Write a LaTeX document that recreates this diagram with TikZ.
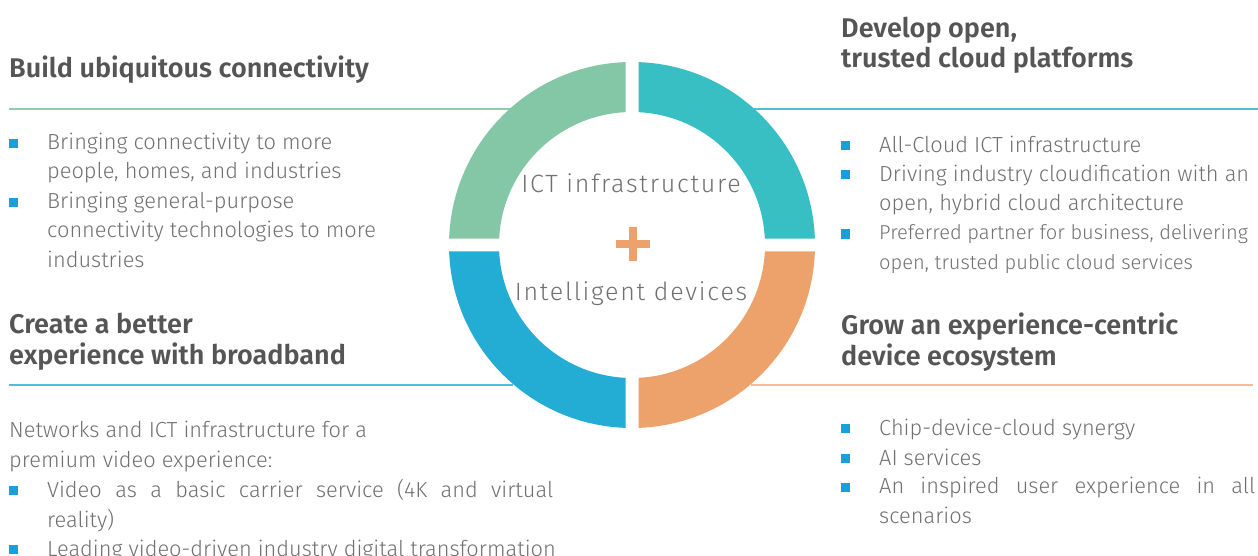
\documentclass[tikz,border=0pt]{standalone}
\usepackage{fontspec}
\setmainfont{Fira Sans Light}[BoldFont=Fira Sans SemiBold]
\newfontfamily\ringfont{Fira Sans Light}[LetterSpace=7]
\usetikzlibrary{calc}
\definecolor{ringgreen}{HTML}{84C7A6}
\definecolor{ringteal}{HTML}{38BFC4}
\definecolor{ringblue}{HTML}{23ADD5}
\definecolor{ringorange}{HTML}{EDA16B}
\definecolor{headgray}{HTML}{555555}
\definecolor{bodygray}{HTML}{707070}
\definecolor{bulletblue}{HTML}{1A9FDB}
\newcommand{\headfont}{\fontsize{27}{30.5}\selectfont\bfseries}
\newcommand{\bodyfont}{\fontsize{21.8}{29.3}\selectfont}
\tikzset{
  head/.style={anchor=base west, inner sep=0pt, align=left, font=\headfont, text=headgray},
  body/.style={anchor=base west, inner sep=0pt, align=left, font=\bodyfont, text=bodygray},
  centre/.style={anchor=base, inner sep=0pt, font=\ringfont\fontsize{25}{28}\selectfont, text=bodygray},
  bulletbox/.style={fill=bulletblue, minimum size=9pt, inner sep=0pt},
  rule/.style={line width=1.4pt},
}
\begin{document}
\begin{tikzpicture}[x=1pt,y=-1pt]
    \useasboundingbox (0,0) rectangle (1258,556);
    \coordinate (c) at (632,245);
    % rules under the headings
    \coordinate (tl-a) at (9,109);  \coordinate (tl-b) at (511,109);
    \coordinate (tr-a) at (754,109); \coordinate (tr-b) at (1258,109);
    \coordinate (bl-a) at (9,385);  \coordinate (bl-b) at (513,385);
    \coordinate (br-a) at (751,385); \coordinate (br-b) at (1253,385);
    \draw[rule, ringgreen!90] (tl-a) -- (tl-b);
    \draw[rule, ringteal!90] (tr-a) -- (tr-b);
    \draw[rule, ringblue!80] (bl-a) -- (bl-b);
    \draw[rule, ringorange!70] (br-a) -- (br-b);
    % ring of four quarters
    \foreach \q/\col in {180/ringgreen, 270/ringteal, 90/ringblue, 0/ringorange}
      \fill[\col] ($(c)+(\q+2.035:183)$) arc[start angle=\q+2.035, end angle=\q+87.965, radius=183]
        -- ($(c)+(\q+87.199:133)$) arc[start angle=\q+87.199, end angle=\q+2.801, radius=133] -- cycle;
    % plus sign
    \coordinate (pl) at (616,244); \coordinate (pr) at (650,244);
    \coordinate (pt) at (633,227); \coordinate (pb) at (633,261);
    \draw[ringorange, line width=8pt] (pl) -- (pr) (pt) -- (pb);
    \node[centre] (ict) at (631,193) {ICT infrastructure};
    \node[centre] (dev) at (631,300) {Intelligent devices};
    % top left
    \node[head] (h1) at (9,78) {Build ubiquitous connectivity};
    \node[bulletbox] (b11) at (13.5,144) {};
    \node[body] (t11) at (47,179) {Bringing connectivity to more\\people, homes, and industries};
    \node[bulletbox] (b12) at (13.5,203) {};
    \node[body] (t12) at (47,267) {Bringing general-purpose\\connectivity technologies to more\\industries};
    % top right
    \node[head] (h2) at (841,68) {Develop open,\\trusted cloud platforms};
    \node[bulletbox] (b21) at (845.5,146) {};
    \node[body] (t21) at (879,153) {All-Cloud ICT infrastructure};
    \node[bulletbox] (b22) at (845.5,175) {};
    \node[body] (t22) at (879,211) {Driving industry cloudification with an\\open, hybrid cloud architecture};
    \node[bulletbox] (b23) at (845.5,234) {};
    \node[body, font=\fontsize{20.1}{29.3}\selectfont] (t23) at (879,269) {Preferred partner for business, delivering\\open, trusted public cloud services};
    % bottom left
    \node[head] (h3) at (9,364) {Create a better\\experience with broadband};
    \node[body] (t30) at (9,467) {Networks and ICT infrastructure for a\\premium video experience:};
    \node[bulletbox] (b31) at (13.5,490) {};
    \node[body] (t31) at (47,527) {\makebox[506pt][s]{Video as a basic carrier service (4K and virtual}\\reality)};
    \node[bulletbox] (b32) at (13.5,549) {};
    \node[body] (t32) at (47,556) {Leading video-driven industry digital transformation};
    % bottom right
    \node[head] (h4) at (841,365) {Grow an experience-centric\\device ecosystem};
    \node[bulletbox] (b41) at (845.5,428) {};
    \node[body] (t41) at (879,435) {Chip-device-cloud synergy};
    \node[bulletbox] (b42) at (845.5,458) {};
    \node[body] (t42) at (879,465) {AI services};
    \node[bulletbox] (b43) at (845.5,487) {};
    \node[body] (t43) at (879,523) {\makebox[376pt][s]{An inspired user experience in all}\\scenarios};
\end{tikzpicture}
\end{document}
